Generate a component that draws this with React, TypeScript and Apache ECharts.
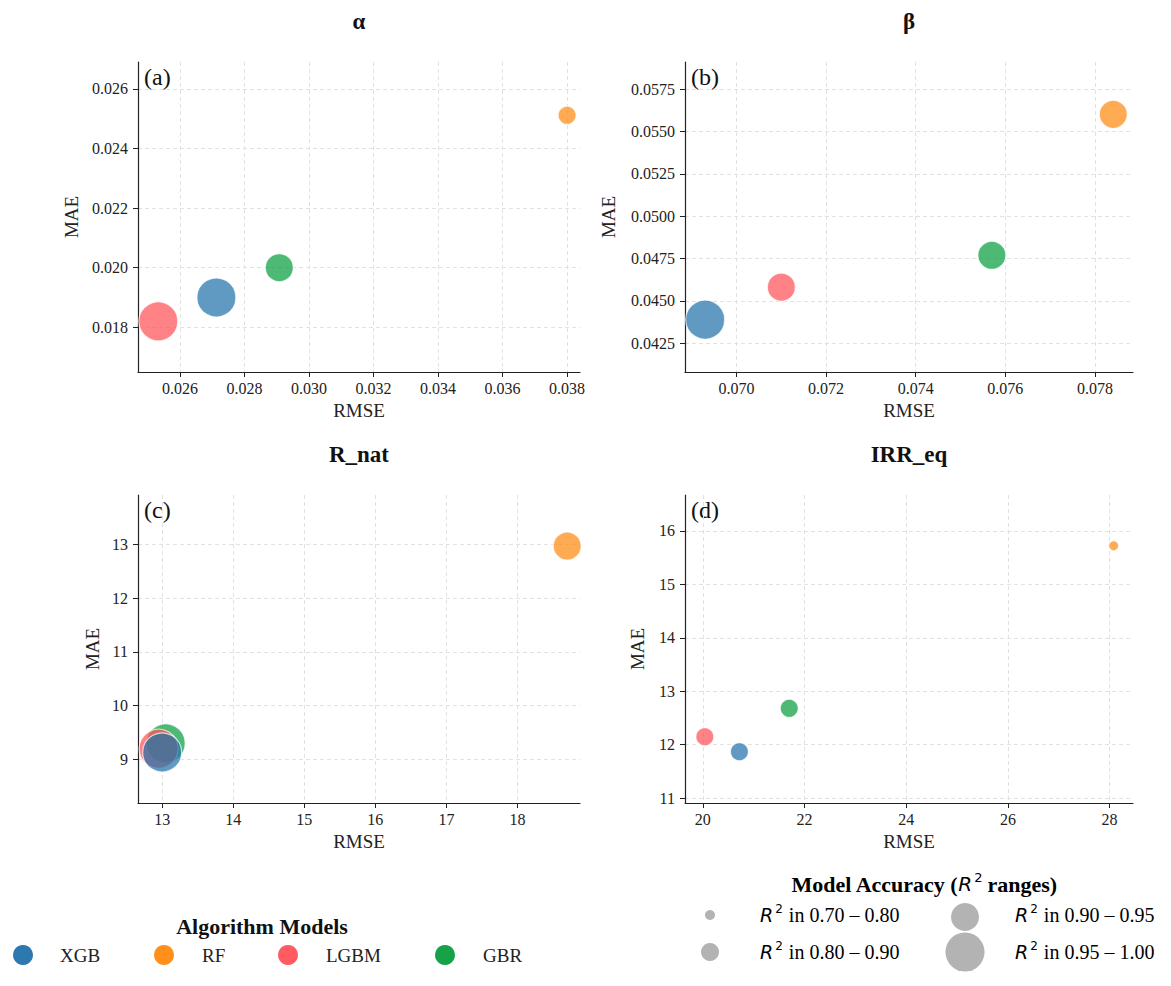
import { useEffect, useRef } from 'react';
import * as echarts from 'echarts';

// models, in legend order
const models = ['XGB', 'RF', 'LGBM', 'GBR'];
const modelColors = ['#2271AA', '#FF8A10', '#FF5257', '#0A9E3E'];
// plotting order (later ones sit on top)
const drawOrder = ['GBR', 'LGBM', 'RF', 'XGB'];

const panelTitles = ['α', 'β', 'R_nat', 'IRR_eq'];
const panelTags = ['(a)', '(b)', '(c)', '(d)'];

// values per panel, in the order XGB, RF, LGBM, GBR
const rmseAlpha = [0.02713, 0.038, 0.02533, 0.02908];
const maeAlpha = [0.019, 0.02511, 0.0182, 0.02];
const r2Alpha = [0.96, 0.85, 0.96, 0.93];

const rmseBeta = [0.0693, 0.07841, 0.071, 0.0757];
const maeBeta = [0.04389, 0.05601, 0.04581, 0.04769];
const r2Beta = [0.96, 0.92, 0.93, 0.92];

const rmseRnat = [13.0, 18.7, 12.95, 13.05];
const maeRnat = [9.13, 12.97, 9.2, 9.3];
const r2Rnat = [0.97, 0.92, 0.96, 0.96];

const rmseIrr = [20.72, 28.08, 20.04, 21.7];
const maeIrr = [11.87, 15.72, 12.15, 12.68];
const r2Irr = [0.85, 0.75, 0.84, 0.83];

// tick labels
const xTicksAlpha = [0.026, 0.028, 0.03, 0.032, 0.034, 0.036, 0.038];
const yTicksAlpha = [0.018, 0.02, 0.022, 0.024, 0.026];
const xTicksBeta = [0.07, 0.072, 0.074, 0.076, 0.078];
const yTicksBeta = [0.0425, 0.045, 0.0475, 0.05, 0.0525, 0.055, 0.0575];
const xTicksRnat = [13, 14, 15, 16, 17, 18];
const yTicksRnat = [9, 10, 11, 12, 13];
const xTicksIrr = [20, 22, 24, 26, 28];
const yTicksIrr = [11, 12, 13, 14, 15, 16];

// R² ranges for the bubble size legend
const r2Edges = [0.7, 0.8, 0.9, 0.95, 1.0];
const r2Labels = ['0.70 – 0.80', '0.80 – 0.90', '0.90 – 0.95', '0.95 – 1.00'];

// ---- layout / style ----
const binDiameters = [10, 18, 28, 39];
const FONT = '"Liberation Serif", "Times New Roman", serif';
const grids = [
  { left: 138, top: 62, width: 442, height: 310 },
  { left: 685, top: 62, width: 448, height: 310 },
  { left: 138, top: 495, width: 442, height: 308 },
  { left: 685, top: 495, width: 448, height: 308 },
];
const ranges = [
  { x: [0.0247, 0.0384], y: [0.0165, 0.0269], xd: 3, yd: 3 },
  { x: [0.06885, 0.07885], y: [0.0408, 0.0591], xd: 3, yd: 4 },
  { x: [12.66, 18.88], y: [8.19, 13.92], xd: 0, yd: 0 },
  { x: [19.65, 28.46], y: [10.91, 16.67], xd: 0, yd: 0 },
];
const yNameGaps = [57, 67, 36, 38];

const panels = [
  { rmse: rmseAlpha, mae: maeAlpha, r2: r2Alpha, xt: xTicksAlpha, yt: yTicksAlpha },
  { rmse: rmseBeta, mae: maeBeta, r2: r2Beta, xt: xTicksBeta, yt: yTicksBeta },
  { rmse: rmseRnat, mae: maeRnat, r2: r2Rnat, xt: xTicksRnat, yt: yTicksRnat },
  { rmse: rmseIrr, mae: maeIrr, r2: r2Irr, xt: xTicksIrr, yt: yTicksIrr },
];

const sizeFor = (r2: number) => {
  for (let i = 0; i < r2Labels.length; i++) {
    if (r2 < r2Edges[i + 1]) return binDiameters[i];
  }
  return binDiameters[binDiameters.length - 1];
};

const axisCommon = (ticks: number[], digits: number, margin: number) => ({
  type: 'value' as const,
  axisLine: { show: true, onZero: false, lineStyle: { color: '#222', width: 1.2 } },
  axisTick: { show: true, length: 5, customValues: ticks, lineStyle: { color: '#222', width: 1 } },
  axisLabel: {
    customValues: ticks,
    formatter: (v: number) => v.toFixed(digits),
    fontSize: 16,
    fontFamily: FONT,
    color: '#222',
    margin,
  },
  splitLine: { show: true, lineStyle: { type: [4, 3], color: '#e2e2e2', width: 1 } },
  nameLocation: 'middle' as const,
  nameTextStyle: { fontSize: 19, fontFamily: FONT, color: '#222' },
});

const r2Rich = {
  it: { fontFamily: 'DejaVu Sans', fontStyle: 'italic', fontSize: 19, color: '#222' },
  sup: { fontFamily: 'DejaVu Sans', fontSize: 12, color: '#222', padding: [0, 6, 12, 2] },
  t: { fontFamily: FONT, fontSize: 20, color: '#222' },
  b: { fontFamily: FONT, fontSize: 22, fontWeight: 'bold', color: '#111' },
  itb: { fontFamily: 'DejaVu Sans', fontStyle: 'italic', fontSize: 20, color: '#111' },
  supb: { fontFamily: 'DejaVu Sans', fontSize: 13, color: '#111', padding: [0, 5, 13, 2] },
};

const App = () => {
  const chartDom = useRef<HTMLDivElement | null>(null);

  useEffect(() => {
    document.body.style.margin = '0';
    if (!chartDom.current) return;
    const myChart = echarts.init(chartDom.current, null, { renderer: 'svg' });

    const xAxis = panels.map((p, i) => ({
      ...axisCommon(p.xt, ranges[i].xd, 8),
      gridIndex: i,
      min: ranges[i].x[0],
      max: ranges[i].x[1],
      name: 'RMSE',
      nameGap: 29,
    }));
    const yAxis = panels.map((p, i) => ({
      ...axisCommon(p.yt, ranges[i].yd, 10),
      gridIndex: i,
      min: ranges[i].y[0],
      max: ranges[i].y[1],
      name: 'MAE',
      nameGap: yNameGaps[i],
    }));

    const series: any[] = [];
    panels.forEach((p, i) => {
      drawOrder.forEach((m) => {
        const k = models.indexOf(m);
        series.push({
          type: 'scatter',
          name: m,
          xAxisIndex: i,
          yAxisIndex: i,
          data: [[p.rmse[k], p.mae[k], p.r2[k]]],
          symbol: 'circle',
          symbolSize: (v: number[]) => sizeFor(v[2]),
          itemStyle: { color: modelColors[k], opacity: 0.72, borderColor: '#ffffff', borderWidth: 1.2 },
        });
      });
    });

    const title = panelTitles.map((t, i) => ({
      text: t,
      left: grids[i].left + grids[i].width / 2,
      top: grids[i].top - 52,
      textAlign: 'center',
      padding: 0,
      textStyle: { fontFamily: FONT, fontSize: 23, fontWeight: 'bold', color: '#111' },
    }));

    const graphic: any[] = [];
    panelTags.forEach((t, i) => {
      graphic.push({
        type: 'text',
        x: grids[i].left + 6,
        y: grids[i].top + 15,
        style: { text: t, font: `24px ${FONT}`, fill: '#111', textAlign: 'left', textVerticalAlign: 'middle' },
      });
    });

    // model legend
    graphic.push({
      type: 'text',
      x: 262,
      y: 926,
      style: { text: 'Algorithm Models', font: `bold 22px ${FONT}`, fill: '#111', textAlign: 'center', textVerticalAlign: 'middle' },
    });
    const markX = [23, 164, 288, 445];
    const labelX = [60, 202, 326, 483];
    models.forEach((m, k) => {
      graphic.push({
        type: 'circle',
        shape: { cx: markX[k], cy: 955, r: 10 },
        style: { fill: modelColors[k], opacity: 0.95 },
      });
      graphic.push({
        type: 'text',
        x: labelX[k],
        y: 955,
        style: { text: m, font: `19px ${FONT}`, fill: '#222', textAlign: 'left', textVerticalAlign: 'middle' },
      });
    });

    // size legend
    graphic.push({
      type: 'text',
      x: 924,
      y: 884,
      style: {
        text: '{b|Model Accuracy (}{itb|R}{supb|2}{b|ranges)}',
        rich: r2Rich,
        textAlign: 'center',
        textVerticalAlign: 'middle',
      },
    });
    const sizeMarkX = [710, 710, 965, 965];
    const sizeMarkY = [915, 952, 917, 952];
    const sizeLabelX = [760, 760, 1015, 1015];
    r2Labels.forEach((lab, j) => {
      graphic.push({
        type: 'circle',
        shape: { cx: sizeMarkX[j], cy: sizeMarkY[j], r: binDiameters[j] / 2 },
        style: { fill: '#b3b3b3' },
      });
      graphic.push({
        type: 'text',
        x: sizeLabelX[j],
        y: j % 2 === 0 ? 915 : 952,
        style: {
          text: `{it|R}{sup|2}{t|in ${lab}}`,
          rich: r2Rich,
          textAlign: 'left',
          textVerticalAlign: 'middle',
        },
      });
    });

    const option = {
      animation: false,
      backgroundColor: '#ffffff',
      textStyle: { fontFamily: FONT },
      title,
      grid: grids.map((g) => ({ ...g, containLabel: false })),
      xAxis,
      yAxis,
      series,
      graphic,
    };

    myChart.setOption(option);

    return () => {
      myChart.dispose();
    };
  }, []);

  return <div ref={chartDom} style={{ width: 1171, height: 986 }} />;
};

export default App;
